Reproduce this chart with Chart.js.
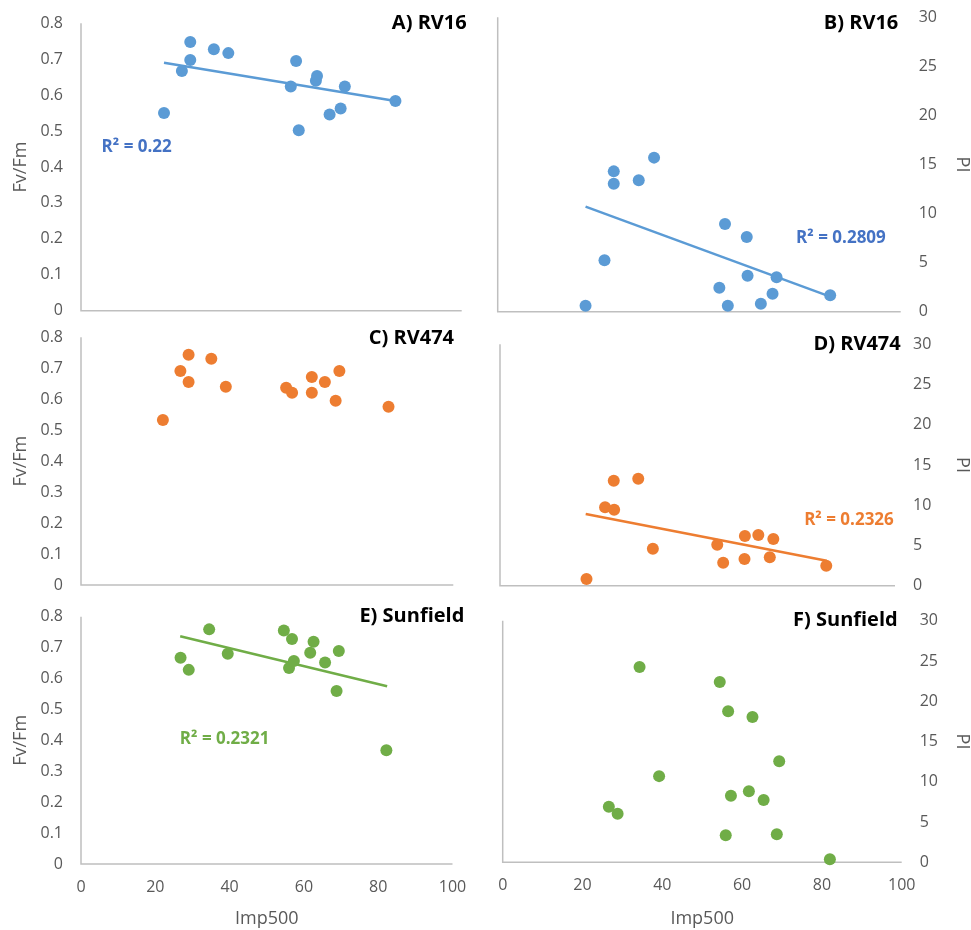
<!DOCTYPE html>
<html>
<head>
<meta charset="utf-8">
<script src="https://cdn.jsdelivr.net/npm/chart.js@4.4.1/dist/chart.umd.min.js"></script>
<style>
    html, body { margin: 0; padding: 0; background: #fff; overflow: hidden; }
    body { width: 971px; height: 930px; position: relative; }
    .panel { position: absolute; }
</style>
</head>
<body>
<div class="panel" id="boxA"><canvas id="chartA"></canvas></div>
<div class="panel" id="boxB"><canvas id="chartB"></canvas></div>
<div class="panel" id="boxC"><canvas id="chartC"></canvas></div>
<div class="panel" id="boxD"><canvas id="chartD"></canvas></div>
<div class="panel" id="boxE"><canvas id="chartE"></canvas></div>
<div class="panel" id="boxF"><canvas id="chartF"></canvas></div>
<script>
// ==========================================
// Fv/Fm and PI vs Imp500 - six panels
// ==========================================

// --- data ---
const xTicks = [0, 20, 40, 60, 80, 100];
const fvfmTicks = [0, 0.1, 0.2, 0.3, 0.4, 0.5, 0.6, 0.7, 0.8];
const piTicks = [0, 5, 10, 15, 20, 25, 30];

// A) RV16 - Fv/Fm
const rv16FvX = [21.8, 26.5, 28.7, 28.7, 34.9, 38.7, 55.1, 56.5, 57.2, 61.7, 62.0, 65.3, 68.2, 69.3, 82.6];
const rv16FvY = [0.550, 0.667, 0.748, 0.698, 0.728, 0.717, 0.624, 0.695, 0.502, 0.640, 0.653, 0.546, 0.563, 0.624, 0.584];
const rv16FvTrendX = [21.8, 82.6];
const rv16FvTrendY = [0.690, 0.584];

// B) RV16 - PI
const rv16PiX = [21.8, 26.5, 28.8, 28.8, 35.0, 38.8, 55.0, 56.4, 57.1, 61.8, 62.0, 65.3, 68.2, 69.2, 82.5];
const rv16PiY = [0.61, 5.24, 14.3, 13.05, 13.4, 15.7, 2.45, 8.94, 0.61, 7.61, 3.67, 0.82, 1.83, 3.50, 1.67];
const rv16PiTrendX = [21.8, 82.5];
const rv16PiTrendY = [10.70, 1.53];

// C) RV474 - Fv/Fm
const rv474FvX = [22.0, 26.7, 28.9, 28.9, 35.0, 38.9, 55.1, 56.7, 62.0, 62.0, 65.5, 68.4, 69.4, 82.6];
const rv474FvY = [0.533, 0.691, 0.744, 0.656, 0.731, 0.640, 0.637, 0.621, 0.672, 0.621, 0.656, 0.595, 0.691, 0.576];

// D) RV474 - PI
const rv474PiX = [21.9, 26.6, 28.8, 28.9, 35.0, 38.7, 55.0, 56.5, 61.9, 62.0, 65.4, 68.3, 69.2, 82.6];
const rv474PiY = [0.83, 9.74, 13.05, 9.45, 13.3, 4.6, 5.1, 2.86, 3.32, 6.18, 6.30, 3.53, 5.80, 2.49];
const rv474PiTrendX = [21.7, 82.7];
const rv474PiTrendY = [8.91, 3.11];

// E) Sunfield - Fv/Fm
const sunFvX = [26.8, 29.0, 34.5, 39.5, 54.6, 56.8, 56.0, 57.3, 61.7, 62.6, 65.7, 68.8, 69.4, 82.2];
const sunFvY = [0.667, 0.628, 0.759, 0.680, 0.755, 0.728, 0.634, 0.657, 0.683, 0.719, 0.652, 0.560, 0.689, 0.368];
const sunFvTrendX = [26.7, 82.4];
const sunFvTrendY = [0.737, 0.575];

// F) Sunfield - PI
const sunPiX = [26.6, 28.8, 34.3, 39.2, 54.4, 56.5, 55.9, 57.2, 61.7, 62.6, 65.4, 68.7, 69.3, 82.0];
const sunPiY = [6.9, 6.04, 24.25, 10.7, 22.4, 18.75, 3.35, 8.27, 8.82, 18.04, 7.74, 3.48, 12.54, 0.37];

// --- styles ---
const BLUE = '#5b9bd5', BLUE_TXT = '#4472c4';
const ORANGE = '#ed7d31';
const GREEN = '#70ad47';
const AXIS_COLOR = '#bfbfbf';
const TEXT_GRAY = '#595959';
const FONT = '"Open Sans", "DejaVu Sans", sans-serif';

const toPoints = (xs, ys) => xs.map((x, i) => ({ x: x, y: ys[i] }));

// custom plugin: axis lines, panel title, R² label
const panelDeco = {
    id: 'panelDeco',
    beforeDatasetsDraw(chart, args, opts) {
        const { ctx, chartArea: a } = chart;
        ctx.save();
        ctx.strokeStyle = AXIS_COLOR;
        ctx.lineWidth = 1.5;
        ctx.beginPath();
        ctx.moveTo(a.left, a.top);
        ctx.lineTo(a.left, a.bottom);
        ctx.lineTo(a.right, a.bottom);
        ctx.stroke();
        ctx.restore();
    },
    afterDatasetsDraw(chart, args, opts) {
        const ctx = chart.ctx;
        ctx.save();
        ctx.font = 'bold 20px ' + FONT;
        ctx.fillStyle = '#000';
        ctx.textAlign = 'right';
        ctx.textBaseline = 'middle';
        ctx.fillText(opts.title, opts.titleX, opts.titleY);
        if (opts.r2) {
            const r = opts.r2;
            ctx.font = 'bold 17px ' + FONT;
            ctx.fillStyle = r.color;
            ctx.textAlign = r.align;
            ctx.fillText(r.text, chart.scales.x.getPixelForValue(r.x), chart.scales.y.getPixelForValue(r.y));
        }
        ctx.restore();
    }
};

function makePanel(p) {
    const box = document.getElementById(p.boxId);
    box.style.left = p.box.x + 'px';
    box.style.top = p.box.y + 'px';
    box.style.width = p.box.w + 'px';
    box.style.height = p.box.h + 'px';

    const rightAxis = p.yPos === 'right';
    const datasets = [{
        data: toPoints(p.xs, p.ys),
        backgroundColor: p.color,
        borderColor: p.color,
        pointRadius: 6,
        pointBorderWidth: 0,
        clip: false
    }];
    if (p.trendX) {
        datasets.push({
            type: 'line',
            data: toPoints(p.trendX, p.trendY),
            borderColor: p.color,
            borderWidth: 2.5,
            pointRadius: 0,
            fill: false,
            clip: false
        });
    }

    const yWidth = rightAxis ? (p.box.x + p.box.w - p.plot.r) : (p.plot.l - p.box.x);
    const xHeight = p.box.y + p.box.h - p.plot.b;

    new Chart(document.getElementById(p.canvasId), {
        type: 'scatter',
        data: { datasets: datasets },
        options: {
            responsive: true,
            maintainAspectRatio: false,
            animation: false,
            layout: {
                padding: {
                    top: p.plot.t - p.box.y,
                    left: rightAxis ? p.plot.l - p.box.x : 0,
                    right: rightAxis ? 0 : p.box.x + p.box.w - p.plot.r,
                    bottom: 0
                }
            },
            plugins: {
                legend: { display: false },
                tooltip: { enabled: false },
                panelDeco: {
                    title: p.title,
                    titleX: p.titleX - p.box.x,
                    titleY: p.titleY - p.box.y,
                    r2: p.r2
                }
            },
            scales: {
                x: {
                    type: 'linear',
                    min: 0, max: 100,
                    afterBuildTicks: s => { s.ticks = xTicks.map(v => ({ value: v })); },
                    grid: { display: false, drawTicks: false },
                    border: { display: false },
                    ticks: {
                        display: p.showX,
                        padding: 14,
                        color: TEXT_GRAY,
                        font: { family: FONT, size: 16 }
                    },
                    title: {
                        display: p.showX,
                        text: 'Imp500',
                        color: TEXT_GRAY,
                        padding: { top: 0, bottom: 0 },
                        font: { family: FONT, size: 18 }
                    },
                    afterFit: s => {
                        s.height = xHeight;
                        s.paddingLeft = 0;
                        s.paddingRight = 0;
                    }
                },
                y: {
                    type: 'linear',
                    position: p.yPos,
                    min: 0, max: p.yMax,
                    afterBuildTicks: s => { s.ticks = p.yTicks.map(v => ({ value: v })); },
                    grid: { display: false, drawTicks: false },
                    border: { display: false },
                    ticks: {
                        padding: 18,
                        color: TEXT_GRAY,
                        font: { family: FONT, size: 16 },
                        callback: v => (v === 0 ? '0' : (p.yMax < 1 ? v.toFixed(1) : String(v)))
                    },
                    title: {
                        display: true,
                        text: p.yTitle,
                        color: TEXT_GRAY,
                        padding: { top: rightAxis ? 0 : 10, bottom: 0 },
                        font: { family: FONT, size: 18 }
                    },
                    afterFit: s => {
                        s.width = yWidth;
                        s.paddingTop = 0;
                        s.paddingBottom = 0;
                    }
                }
            }
        },
        plugins: [panelDeco]
    });
}

const panels = [
    {
        boxId: 'boxA', canvasId: 'chartA', title: 'A) RV16', titleX: 466.7, titleY: 23,
        box: { x: 0, y: 0, w: 485, h: 322 }, plot: { l: 81, t: 23.3, r: 461.7, b: 310.7 },
        xs: rv16FvX, ys: rv16FvY, trendX: rv16FvTrendX, trendY: rv16FvTrendY, color: BLUE,
        yPos: 'left', yMax: 0.8, yTicks: fvfmTicks, yTitle: 'Fv/Fm', showX: false,
        r2: { text: 'R² = 0.22', x: 5.4, y: 0.454, align: 'left', color: BLUE_TXT }
    },
    {
        boxId: 'boxB', canvasId: 'chartB', title: 'B) RV16', titleX: 898.3, titleY: 23.3,
        box: { x: 485, y: 0, w: 488, h: 322 }, plot: { l: 497.7, t: 17.3, r: 900.7, b: 311.7 },
        xs: rv16PiX, ys: rv16PiY, trendX: rv16PiTrendX, trendY: rv16PiTrendY, color: BLUE,
        yPos: 'right', yMax: 30, yTicks: piTicks, yTitle: 'PI', showX: false,
        r2: { text: 'R² = 0.2809', x: 96.3, y: 7.54, align: 'right', color: BLUE_TXT }
    },
    {
        boxId: 'boxC', canvasId: 'chartC', title: 'C) RV474', titleX: 454, titleY: 338.3,
        box: { x: 0, y: 322, w: 485, h: 278 }, plot: { l: 81, t: 337.3, r: 453.3, b: 585 },
        xs: rv474FvX, ys: rv474FvY, color: ORANGE,
        yPos: 'left', yMax: 0.8, yTicks: fvfmTicks, yTitle: 'Fv/Fm', showX: false
    },
    {
        boxId: 'boxD', canvasId: 'chartD', title: 'D) RV474', titleX: 900.7, titleY: 344,
        box: { x: 485, y: 322, w: 488, h: 278 }, plot: { l: 500, t: 344.3, r: 895, b: 585.7 },
        xs: rv474PiX, ys: rv474PiY, trendX: rv474PiTrendX, trendY: rv474PiTrendY, color: ORANGE,
        yPos: 'right', yMax: 30, yTicks: piTicks, yTitle: 'PI', showX: false,
        r2: { text: 'R² = 0.2326', x: 99.7, y: 8.13, align: 'right', color: ORANGE }
    },
    {
        boxId: 'boxE', canvasId: 'chartE', title: 'E) Sunfield', titleX: 464.3, titleY: 616,
        box: { x: 0, y: 600, w: 485, h: 330 }, plot: { l: 81, t: 616.7, r: 452.5, b: 864 },
        xs: sunFvX, ys: sunFvY, trendX: sunFvTrendX, trendY: sunFvTrendY, color: GREEN,
        yPos: 'left', yMax: 0.8, yTicks: fvfmTicks, yTitle: 'Fv/Fm', showX: true,
        r2: { text: 'R² = 0.2321', x: 26.6, y: 0.403, align: 'left', color: GREEN }
    },
    {
        boxId: 'boxF', canvasId: 'chartF', title: 'F) Sunfield', titleX: 897.7, titleY: 620.7,
        box: { x: 485, y: 600, w: 488, h: 330 }, plot: { l: 502.7, t: 620.7, r: 901.7, b: 862.3 },
        xs: sunPiX, ys: sunPiY, color: GREEN,
        yPos: 'right', yMax: 30, yTicks: piTicks, yTitle: 'PI', showX: true
    }
];

document.addEventListener('DOMContentLoaded', () => {
    panels.forEach(makePanel);
});
</script>
</body>
</html>
